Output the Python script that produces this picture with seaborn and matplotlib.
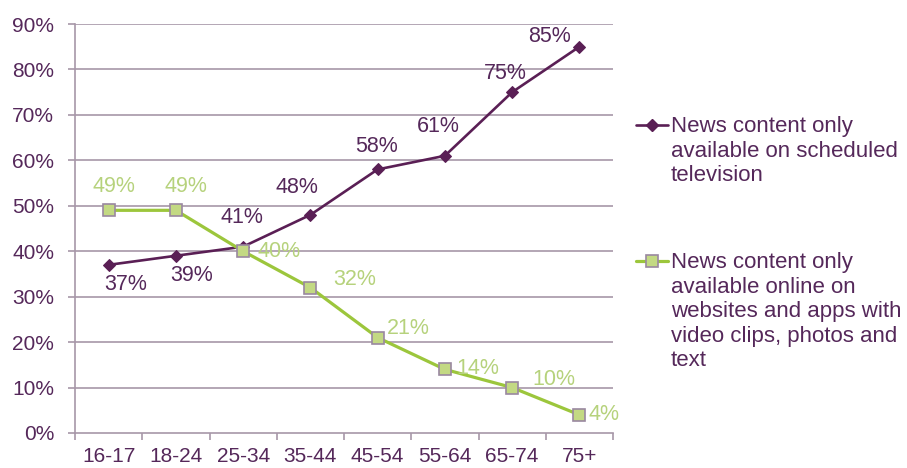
import matplotlib
matplotlib.use("Agg")
import matplotlib.pyplot as plt
import seaborn as sns
import pandas as pd
from matplotlib.lines import Line2D

categories = ["16-17", "18-24", "25-34", "35-44", "45-54", "55-64", "65-74", "75+"]
tv_values = [37, 39, 41, 48, 58, 61, 75, 85]
online_values = [49, 49, 40, 32, 21, 14, 10, 4]
series_names = ["News content only\navailable on scheduled\ntelevision",
                "News content only\navailable online on\nwebsites and apps with\nvideo clips, photos and\ntext"]
y_ticks = [0, 10, 20, 30, 40, 50, 60, 70, 80, 90]

sns.set_theme(style="white")
plt.rcParams['font.family'] = ['Liberation Sans', 'DejaVu Sans']

PURPLE = "#5a1f55"
TEXT_PURPLE = "#55285a"
GREEN_LINE = "#9cc63c"
GREEN_FILL = "#c3d983"
GREEN_EDGE = "#9a88a0"
GREEN_TEXT = "#b6d27c"
GRID = "#a797a8"
FS_TICK = 15
FS_LAB = 15.5
FS_LEG = 16

fig = plt.figure(figsize=(9.07, 4.68), dpi=100)
ax = fig.add_axes([75/907, 1-433/468, (613-75)/907, (433-24)/468])

df_tv = pd.DataFrame({"age": categories, "value": tv_values})
df_on = pd.DataFrame({"age": categories, "value": online_values})

sns.lineplot(data=df_tv, x="age", y="value", ax=ax, color=PURPLE, linewidth=1.9,
             marker="D", markersize=6, markeredgecolor=PURPLE, markerfacecolor=PURPLE,
             sort=False, zorder=3)
sns.lineplot(data=df_on, x="age", y="value", ax=ax, color=GREEN_LINE, linewidth=2.3,
             marker="s", markersize=9, markerfacecolor=GREEN_FILL, markeredgecolor=GREEN_EDGE,
             markeredgewidth=1.2, sort=False, zorder=4)

ax.set_xlim(-0.5, len(categories) - 0.5)
ax.set_ylim(0, 90)
ax.set_yticks(y_ticks)
ax.set_yticklabels([f"{v}%" for v in y_ticks])
ax.set_xticks(range(len(categories)))
ax.set_xticklabels(categories)
ax.set_xticks([i - 0.5 for i in range(len(categories) + 1)], minor=True)
ax.set_xlabel("")
ax.set_ylabel("")

for v in y_ticks[1:]:
    ax.axhline(v, color=GRID, linewidth=1.2, zorder=1)

for s in ["top", "right"]:
    ax.spines[s].set_visible(False)
for s in ["left", "bottom"]:
    ax.spines[s].set_color(GRID)
    ax.spines[s].set_linewidth(1.2)

ax.tick_params(axis="y", which="major", left=True, length=5, width=1.2, color=GRID,
               labelsize=FS_TICK, labelcolor=TEXT_PURPLE, pad=10)
ax.tick_params(axis="x", which="major", bottom=False, length=0, labelsize=FS_TICK,
               labelcolor=TEXT_PURPLE, pad=10)
ax.tick_params(axis="x", which="minor", bottom=True, length=5, width=1.2, color=GRID)

# data label offsets (pixels, right / up)
tv_off = [(17, -20), (16, -20), (-1, 29), (-13, 27), (-1, 23), (-7, 29), (-7, 19), (-30, 10)]
on_off = [(5, 24), (10, 24), (36, 0), (44, 8), (31, 9), (33, 1), (42, 8), (25, 0)]
k = 0.72
for i, (v, (dx, dy)) in enumerate(zip(tv_values, tv_off)):
    ax.annotate(f"{v}%", (i, v), xytext=(dx * k, dy * k), textcoords="offset points",
                ha="center", va="center", fontsize=FS_LAB, color=TEXT_PURPLE, zorder=5)
for i, (v, (dx, dy)) in enumerate(zip(online_values, on_off)):
    ax.annotate(f"{v}%", (i, v), xytext=(dx * k, dy * k), textcoords="offset points",
                ha="center", va="center", fontsize=FS_LAB, color=GREEN_TEXT, zorder=5)

# legend
W, H = 907, 468
fig.add_artist(Line2D([636/W, 668/W], [1-125/H, 1-125/H], color=PURPLE, linewidth=1.9,
                      transform=fig.transFigure))
fig.add_artist(Line2D([652/W], [1-125/H], marker="D", markersize=6, color=PURPLE,
                      transform=fig.transFigure))
fig.text(671/W, 1-116/H, series_names[0], ha="left", va="top", fontsize=FS_LEG,
         color=TEXT_PURPLE, linespacing=1.22, transform=fig.transFigure)
fig.add_artist(Line2D([636/W, 668/W], [1-261/H, 1-261/H], color=GREEN_LINE, linewidth=2.3,
                      transform=fig.transFigure))
fig.add_artist(Line2D([652/W], [1-261/H], marker="s", markersize=8, markerfacecolor=GREEN_FILL,
                      markeredgecolor=GREEN_EDGE, markeredgewidth=1.2, color=GREEN_LINE,
                      transform=fig.transFigure))
fig.text(671/W, 1-252/H, series_names[1], ha="left", va="top", fontsize=FS_LEG,
         color=TEXT_PURPLE, linespacing=1.22, transform=fig.transFigure)

fig.savefig("out.png", dpi=100)
